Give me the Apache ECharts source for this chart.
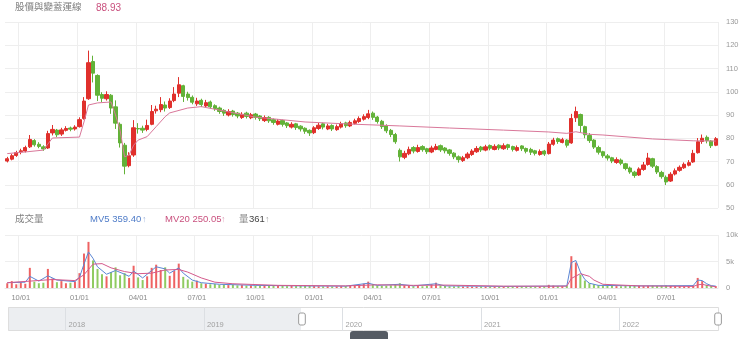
<!DOCTYPE html>
<html>
<head>
<meta charset="utf-8">
<script src="https://cdn.jsdelivr.net/npm/echarts@6/dist/echarts.min.js"></script>
<style>
html,body{margin:0;padding:0;background:#fff;}
#chart{width:740px;height:339px;}
</style>
</head>
<body>
<div id="chart"></div>
<script>
// Weekly bars keyed by the Monday of each week
const firstWeek = '2017-07-31';
const lastWeek = '2022-09-12';
const viewStart = '2019-09-09';

const titleText = '股價與變蓋運線';
const titleValue = '88.93';
const volumeTitle = '成交量';
const ma5Label = 'MV5 359.40';
const ma20Label = 'MV20 250.05';
const volLabel = '361';

// price bars from viewStart onwards
const openPrice = [
70.2,71.0,72.6,74.2,74.5,76.3,79.0,77.4,76.3,75.8,
82.3,83.5,81.8,83.4,84.4,84.0,85.0,88.5,97.0,113.0,
107.0,98.8,97.0,98.5,93.5,86.0,77.0,68.2,72.8,84.2,
84.3,83.8,86.0,91.8,92.3,94.3,93.2,96.2,99.4,102.6,
99.0,97.6,94.8,96.3,93.9,95.6,94.0,93.0,92.0,90.0,
91.7,90.8,88.9,90.8,88.8,90.4,89.6,87.6,89.0,88.0,
86.0,87.6,86.6,84.8,86.2,85.2,84.3,83.4,82.4,84.2,
86.2,84.0,85.5,83.7,84.8,86.6,85.3,86.4,87.2,88.2,
88.9,90.8,89.1,87.3,85.3,83.4,81.6,74.8,71.8,73.3,
76.0,74.3,76.4,75.5,74.1,75.2,76.8,75.8,75.0,73.6,
72.0,70.4,71.6,73.0,74.2,76.2,74.9,76.9,75.2,77.0,
75.5,77.2,76.4,74.8,76.7,75.6,75.2,74.6,73.0,74.5,
73.4,77.4,79.8,78.2,79.2,78.0,88.8,90.2,85.0,81.2,
79.2,76.0,74.2,72.4,71.6,69.6,70.6,69.0,67.2,65.4,
64.2,66.6,68.7,71.2,67.8,65.3,63.2,61.6,64.6,66.2,
67.3,68.4,69.8,73.8,78.6,80.4,78.8,77.0];
const closePrice = [
71.2,72.5,73.8,74.6,76.0,79.5,77.2,76.5,75.4,82.0,
83.8,81.5,83.6,84.2,83.9,84.8,88.0,96.0,112.5,108.0,
98.5,97.2,98.8,93.0,86.5,78.0,68.0,72.5,84.5,84.0,
83.5,85.5,91.5,92.5,94.5,93.0,96.0,99.0,103.0,98.0,
97.5,95.5,96.0,94.5,95.3,93.5,92.8,91.5,90.8,91.5,
90.2,89.6,90.3,89.4,90.1,89.0,88.4,88.9,87.5,86.8,
87.4,86.0,85.4,86.0,84.6,84.0,83.0,82.3,84.5,85.6,
84.8,85.3,84.0,85.0,86.2,85.4,86.8,87.5,88.5,89.3,
90.5,89.0,87.2,85.0,83.2,81.6,78.5,72.0,73.5,75.2,
74.5,76.0,75.1,74.2,75.8,76.4,75.0,74.6,73.5,72.0,
70.8,71.6,73.2,74.5,75.6,75.0,76.3,75.7,76.5,75.8,
76.8,76.0,75.2,76.0,75.5,74.4,74.0,73.5,74.3,73.2,
77.5,79.2,78.6,79.4,77.0,88.5,91.5,85.5,81.5,79.0,
76.2,74.0,72.5,71.5,70.2,70.8,69.2,67.0,65.5,64.0,
66.8,68.5,71.5,68.0,65.5,63.5,61.2,64.5,66.0,67.5,
68.8,69.5,73.5,78.5,80.0,79.0,76.8,79.8];
const lowPrice = [
69.6,70.5,72.0,73.1,73.9,75.8,76.4,75.7,74.6,75.4,
81.2,80.5,81.0,82.9,83.0,83.3,84.6,88.0,96.5,104.0,
96.0,95.6,96.2,90.5,84.0,76.0,64.5,67.5,72.0,82.0,
82.3,83.0,85.6,90.6,91.2,91.5,92.6,95.5,97.7,95.6,
96.2,94.6,93.9,93.4,93.3,92.7,91.8,90.5,89.6,89.4,
89.3,88.6,88.3,88.5,88.2,88.0,87.4,87.0,86.6,85.8,
85.5,85.0,84.4,84.2,83.6,82.9,81.9,81.0,81.8,83.6,
83.8,83.5,83.1,83.2,84.2,84.5,84.8,85.9,86.6,87.6,
88.2,87.9,86.3,84.0,82.2,80.5,77.6,70.0,71.0,72.7,
73.5,73.8,74.2,73.2,73.6,74.8,74.1,73.5,72.5,71.0,
69.5,69.8,71.0,72.4,73.7,74.1,74.4,74.8,74.8,74.9,
75.0,75.0,74.3,74.3,74.5,73.5,72.8,72.6,72.5,72.4,
73.0,76.8,77.6,77.8,76.0,77.6,87.0,82.4,80.0,78.0,
75.4,73.0,71.6,70.4,69.3,69.0,68.4,66.2,64.7,63.0,
63.8,66.0,68.2,67.2,64.6,62.6,59.9,61.2,64.0,65.6,
66.8,67.9,69.4,73.4,77.6,77.8,75.8,76.6];
const highPrice = [
72.0,73.2,74.6,75.5,76.8,81.4,79.6,78.3,77.0,83.2,
85.7,84.0,84.5,85.2,85.0,85.6,89.0,97.7,117.7,115.5,
107.5,99.8,100.2,99.0,96.3,86.8,78.0,74.0,87.8,86.5,
85.4,88.0,94.3,94.0,97.7,95.8,97.2,102.0,106.3,103.0,
100.0,98.4,97.4,97.0,96.5,96.2,94.6,93.6,92.5,92.5,
92.2,91.3,91.2,91.4,90.9,90.9,90.0,89.8,89.5,88.5,
88.2,88.0,87.0,86.9,86.6,85.6,84.7,83.8,85.2,86.6,
86.7,86.2,86.0,85.9,87.1,87.1,87.6,88.4,89.4,90.3,
92.2,91.5,89.6,87.9,86.0,84.0,82.3,75.6,74.6,76.4,
76.6,77.2,77.0,75.9,76.8,77.6,77.3,76.2,75.4,74.0,
72.6,72.4,74.0,75.3,76.6,76.7,77.2,77.3,77.4,77.4,
77.8,77.6,76.8,76.9,77.0,76.0,75.9,75.0,75.2,75.0,
78.4,80.2,80.3,80.2,79.6,90.5,93.6,90.6,85.4,82.2,
79.6,76.8,74.6,73.2,72.0,71.8,71.3,69.4,67.8,66.0,
67.5,69.8,73.7,71.6,68.4,66.0,64.0,65.4,67.0,68.3,
69.6,70.6,75.0,80.1,81.6,81.2,79.2,80.5];
const volume = [
900,1300,700,1100,800,3800,1200,900,1000,3600,1800,1100,1300,900,1000,1200,
2800,6500,8700,5200,3600,2600,2200,3000,3900,2400,2800,1900,4200,2000,1500,
2200,3800,4400,3400,3900,2300,3200,4600,2100,1600,1200,1400,900,800,700,
750,600,650,550,600,500,550,450,500,480,420,460,380,400,420,380,350,400,360,420,
450,380,350,330,300,320,280,300,340,360,420,500,650,800,1200,700,500,400,420,500,
650,900,500,400,350,380,330,420,700,1000,500,380,330,300,350,280,300,260,250,280,
240,270,230,260,250,230,260,240,300,270,280,250,260,300,600,450,380,350,420,6000,
4800,2500,1400,900,700,550,450,400,380,350,330,380,420,450,400,350,400,450,380,420,
480,400,350,330,300,320,500,1900,1300,600,400,361];

// [week offset from viewStart, value]
const baseLine = [
[0,73.4],[4,74.1],[8,74.9],[9,77.5],[10,80.1],[16,80.5],[17,87.0],[18,94.3],[20,95.2],[23,95.6],
[24,90.0],[25,83.5],[26,72.0],[27,72.8],[28,77.0],[29,79.2],[31,80.7],[33,85.0],[35,89.3],[36,90.9],
[40,93.0],[43,93.6],[50,91.0],[55,89.1],[66,87.0],[76,86.1],[87,85.3],[98,84.4],[110,83.5],[120,82.7],
[124,82.1],[126,82.8],[129,81.7],[132,81.4],[143,79.7],[152,78.9],[157,78.8]];
const volMA5 = [
[0,1000],[4,1100],[5,2200],[7,1300],[9,2300],[11,1500],[15,1200],[16,2000],[17,4500],[18,6800],
[19,5600],[20,4000],[22,2600],[24,3300],[26,2600],[27,2200],[28,3200],[30,1900],[32,3300],[33,4000],
[35,3600],[36,2800],[38,3800],[39,2800],[41,1500],[43,1000],[47,700],[55,500],[65,400],[75,350],
[80,900],[82,500],[87,700],[90,400],[95,800],[97,400],[110,300],[120,350],[124,400],[125,4800],
[126,5200],[127,3000],[128,1600],[129,900],[131,500],[140,400],[152,450],[153,1500],[154,1400],[155,800],
[156,450],[157,359.4]];
const volMA20 = [
[0,1000],[5,1300],[10,1600],[15,1400],[17,2500],[19,4500],[21,4600],[23,3800],[26,3100],[29,2700],
[32,2800],[35,3400],[38,3500],[40,3000],[43,1900],[46,1100],[50,800],[60,500],[75,400],[82,600],
[90,500],[97,550],[110,350],[124,350],[125,1800],[127,2700],[129,2200],[130,1500],[132,700],[140,400],
[152,300],[153,600],[154,700],[155,500],[156,350],[157,250.05]];

const upColor = '#e0302c';
const downColor = '#62b238';
const upVolColor = '#ee6262';
const downVolColor = '#8fcb62';
const font = "'Liberation Sans','Noto Sans CJK TC',sans-serif";

// week categories
const DAY = 864e5;
function toDate(s){ return new Date(s + 'T00:00:00Z'); }
function fmt(d){ return d.toISOString().slice(0,10); }
const weeks = [];
for (let t = toDate(firstWeek).getTime(); t <= toDate(lastWeek).getTime(); t += 7 * DAY) {
  weeks.push(fmt(new Date(t)));
}
const offset = weeks.indexOf(viewStart);

function quarterLabel(w){
  const t0 = toDate(w).getTime();
  for (let k = 0; k < 7; k++) {
    const d = new Date(t0 + k * DAY);
    if (d.getUTCDate() === 1 && d.getUTCMonth() % 3 === 0) {
      return String(d.getUTCMonth() + 1).padStart(2,'0') + '/01';
    }
  }
  return '';
}
function yearLabel(w){
  const t0 = toDate(w).getTime();
  for (let k = 0; k < 7; k++) {
    const d = new Date(t0 + k * DAY);
    if (d.getUTCDate() === 1 && d.getUTCMonth() === 0) return String(d.getUTCFullYear());
  }
  return '';
}

const candleData = weeks.map((w, i) => {
  const j = i - offset;
  if (j < 0 || j >= closePrice.length) return ['-','-','-','-'];
  return [openPrice[j], closePrice[j], lowPrice[j], highPrice[j]];
});
const volumeData = weeks.map((w, i) => {
  const j = i - offset;
  if (j < 0 || j >= volume.length) return '-';
  return {
    value: volume[j],
    itemStyle: { color: closePrice[j] >= openPrice[j] ? upVolColor : downVolColor }
  };
});
const shift = pts => pts.map(p => [p[0] + offset, p[1]]);

const chart = echarts.init(document.getElementById('chart'), null, { renderer: 'canvas' });
const gridLine = { show: true, lineStyle: { color: '#eeeeee', width: 1 } };

chart.setOption({
  animation: false,
  backgroundColor: '#ffffff',
  textStyle: { fontFamily: font },
  grid: [
    { left: 5, right: 22, top: 22, height: 186, outerBoundsMode: 'none' },
    { left: 5, right: 22, top: 235, height: 53, outerBoundsMode: 'none' },
    { left: 7, right: 22, top: 307, height: 24, outerBoundsMode: 'none' }
  ],
  xAxis: [
    {
      type: 'category', gridIndex: 0, data: weeks, boundaryGap: true,
      axisLine: { show: false }, axisTick: { show: false }, axisLabel: { show: false },
      splitLine: { show: true, interval: (i, v) => quarterLabel(v) !== '', lineStyle: { color: '#eeeeee' } }
    },
    {
      type: 'category', gridIndex: 1, data: weeks, boundaryGap: true,
      axisLine: { show: true, lineStyle: { color: '#e6e6e6' } }, axisTick: { show: false },
      axisLabel: {
        show: true, color: '#8a8a8a', fontSize: 7.5, margin: 6, hideOverlap: false,
        interval: (i, v) => quarterLabel(v) !== '',
        formatter: v => quarterLabel(v)
      },
      splitLine: { show: true, interval: (i, v) => quarterLabel(v) !== '', lineStyle: { color: '#eeeeee' } }
    },
    {
      type: 'category', gridIndex: 2, data: weeks, boundaryGap: false, z: 20,
      axisLine: { show: false }, axisTick: { show: false },
      axisLabel: {
        show: true, inside: true, color: '#a0a0a0', fontSize: 7.5, margin: 2, align: 'left',
        padding: [0, 0, 0, 3], hideOverlap: false,
        interval: (i, v) => yearLabel(v) !== '',
        formatter: v => yearLabel(v)
      },
      splitLine: { show: true, interval: (i, v) => yearLabel(v) !== '', lineStyle: { color: '#dcdfe3' } }
    }
  ],
  yAxis: [
    {
      type: 'value', gridIndex: 0, position: 'right', min: 50, max: 130, interval: 10,
      axisLine: { show: false }, axisTick: { show: false },
      axisLabel: { color: '#999', fontSize: 7.5, margin: 8 },
      splitLine: gridLine
    },
    {
      type: 'value', gridIndex: 1, position: 'right', min: 0, max: 10000, interval: 5000,
      axisLine: { show: false }, axisTick: { show: false },
      axisLabel: { color: '#999', fontSize: 7.5, margin: 8, formatter: v => v === 0 ? '0' : (v / 1000) + 'k' },
      splitLine: gridLine
    },
    { type: 'value', gridIndex: 2, min: 0, max: 1, show: false }
  ],
  dataZoom: [{
    type: 'slider', xAxisIndex: [0, 1],
    left: 7, right: 22, top: 307, height: 24,
    startValue: offset, endValue: weeks.length - 1,
    showDetail: false, showDataShadow: false, brushSelect: false,
    moveHandleSize: 0,
    backgroundColor: '#eceef1', fillerColor: '#ffffff', borderColor: '#dddddd',
    handleIcon: 'path://M3,0h4a3,3 0 0 1 3,3v12a3,3 0 0 1 -3,3h-4a3,3 0 0 1 -3,-3v-12a3,3 0 0 1 3,-3z',
    handleSize: 12,
    handleStyle: { color: '#ffffff', borderColor: '#9a9a9a', borderWidth: 1 },
    emphasis: { handleStyle: { borderColor: '#9a9a9a' } }
  }],
  series: [
    {
      type: 'candlestick', xAxisIndex: 0, yAxisIndex: 0, data: candleData, barWidth: 3.8,
      itemStyle: { color: upColor, color0: downColor, borderColor: upColor, borderColor0: downColor, borderWidth: 1 }
    },
    {
      type: 'line', xAxisIndex: 0, yAxisIndex: 0, data: shift(baseLine), showSymbol: false,
      lineStyle: { color: '#d9789a', width: 1 }, z: 3
    },
    { type: 'bar', xAxisIndex: 1, yAxisIndex: 1, data: volumeData, barWidth: 2 },
    {
      type: 'line', xAxisIndex: 1, yAxisIndex: 1, data: shift(volMA5), showSymbol: false,
      lineStyle: { color: '#5b86d4', width: 1 }, z: 3
    },
    {
      type: 'line', xAxisIndex: 1, yAxisIndex: 1, data: shift(volMA20), showSymbol: false,
      lineStyle: { color: '#d45a8c', width: 1 }, z: 3
    }
  ],
  graphic: [
    { type: 'text', left: 15, top: 3, style: { text: titleText, fill: '#808080', font: '9.5px ' + font } },
    { type: 'text', left: 96, top: 3, style: { text: titleValue, fill: '#c9507e', font: '10px ' + font } },
    { type: 'text', left: 15, top: 215, style: { text: volumeTitle, fill: '#808080', font: '9.5px ' + font } },
    { type: 'text', left: 90, top: 215, style: { text: ma5Label, fill: '#4f7cc8', font: '9.5px ' + font } },
    { type: 'text', left: 142, top: 215, style: { text: '↑', fill: '#9fb5dc', font: '9px ' + font } },
    { type: 'text', left: 165, top: 215, style: { text: ma20Label, fill: '#c9507e', font: '9.5px ' + font } },
    { type: 'text', left: 221, top: 215, style: { text: '↑', fill: '#dca0b8', font: '9px ' + font } },
    { type: 'text', left: 239, top: 215, style: { text: '量', fill: '#888', font: '9.5px ' + font } },
    { type: 'text', left: 249, top: 215, style: { text: volLabel, fill: '#444', font: '9.5px ' + font } },
    { type: 'text', left: 265, top: 215, style: { text: '↑', fill: '#aaa', font: '9px ' + font } },
    { type: 'rect', left: 350, top: 331, shape: { width: 38, height: 12, r: [3, 3, 0, 0] }, style: { fill: '#555b63' } }
  ]
});
</script>
</body>
</html>
